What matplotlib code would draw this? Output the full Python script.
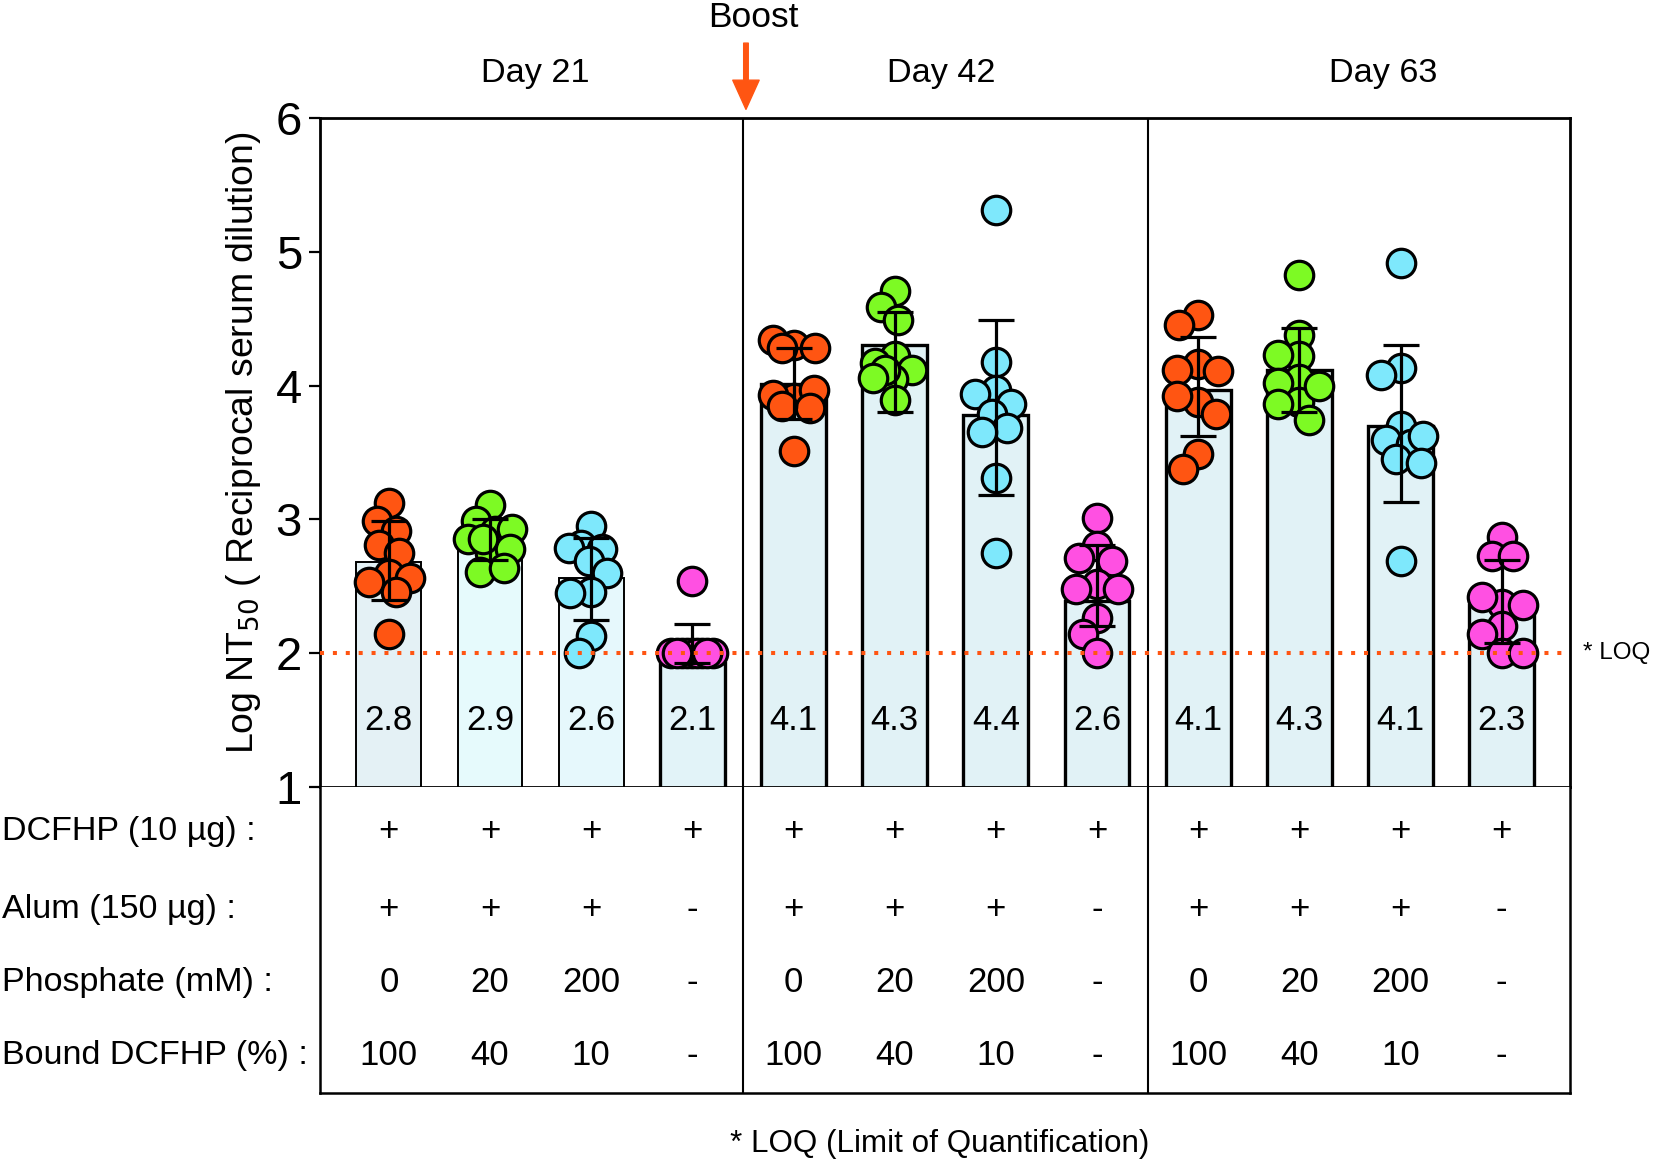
import numpy as np
import matplotlib.pyplot as plt
from matplotlib.transforms import blended_transform_factory

plt.rcParams['font.family'] = ['Liberation Sans', 'DejaVu Sans']

# ---- data ----
days = ['Day 21', 'Day 42', 'Day 63']
day_label_x = [1.45, 5.46, 9.83]
bar_labels = ['2.8', '2.9', '2.6', '2.1', '4.1', '4.3', '4.4', '2.6',
              '4.1', '4.3', '4.1', '2.3']
bar_means = [2.68, 2.80, 2.56, 1.93, 4.01, 4.30, 3.78, 2.39,
             3.97, 4.12, 3.70, 2.36]
err_low = [2.40, 2.70, 2.25, 1.93, 3.75, 3.80, 3.18, 2.20,
           3.62, 3.80, 3.13, 2.08]
err_high = [2.99, 3.00, 2.86, 2.22, 4.28, 4.55, 4.49, 2.81,
            4.36, 4.43, 4.30, 2.70]

d21 = [[3.12, 2.99, 2.91, 2.81, 2.75, 2.59, 2.53, 2.56, 2.46, 2.14],
       [3.11, 2.99, 2.91, 2.85, 2.93, 2.75, 2.78, 2.61, 2.64, 2.85],
       [2.95, 2.81, 2.78, 2.79, 2.69, 2.60, 2.46, 2.45, 2.13, 2.00],
       [2.54, 2.0, 2.0, 2.0, 2.0, 2.0, 2.0, 2.0, 2.0, 2.0]]
d42 = [[4.30, 4.34, 4.28, 4.28, 3.91, 3.93, 3.97, 3.83, 3.85, 3.51],
       [4.71, 4.59, 4.49, 4.22, 4.17, 4.12, 4.05, 4.12, 3.89, 4.06],
       [5.31, 4.18, 3.97, 3.94, 3.86, 3.79, 3.68, 3.65, 3.31, 2.75],
       [3.01, 2.80, 2.71, 2.69, 2.52, 2.48, 2.48, 2.26, 2.14, 2.00]]
d63 = [[4.53, 4.45, 4.16, 4.12, 4.11, 3.88, 3.92, 3.79, 3.49, 3.38],
       [4.83, 4.38, 4.22, 4.23, 4.05, 4.02, 3.88, 3.86, 3.74, 4.00],
       [4.92, 4.13, 4.08, 3.70, 3.59, 3.56, 3.62, 3.45, 3.42, 2.69],
       [2.87, 2.73, 2.73, 2.37, 2.42, 2.36, 2.20, 2.14, 2.00, 2.00]]

row_names = ['DCFHP (10 µg) :', 'Alum (150 µg) :', 'Phosphate (mM) :',
             'Bound DCFHP (%) :']
dcfhp = ['+'] * 12
alum = ['+', '+', '+', '-'] * 3
phosphate = ['0', '20', '200', '-'] * 3
bound = ['100', '40', '10', '-'] * 3

loq = 2.0

# ---- styles ----
dot_colors = ['#FF5512', '#7DFA24', '#7EE8FC', '#FF50E2']
bar_fill = ['#E4F1F5', '#E6FAFC', '#E6F8FC', '#E2F3F8'] + ['#E1F2F6'] * 8
bar_lw = [1.4, 1.4, 1.4, 2.4] + [2.4] * 8
orange = '#FF5512'


def swarm(ax, vals, mind=21.0, maxoff=22):
    """simple dodge so markers don't sit fully on top of each other"""
    ypx = ax.transData.transform(np.column_stack([np.zeros(len(vals)), vals]))[:, 1]
    ppu = ax.transData.transform((1, 0))[0] - ax.transData.transform((0, 0))[0]
    cands = np.arange(-maxoff, maxoff + 1, 1.0)
    cands = cands[np.argsort(np.abs(cands), kind='stable')]
    placed = []
    offs = []
    for yp in ypx:
        if not placed:
            best = 0.0
        else:
            P = np.array(placed)
            d = np.sqrt((cands[:, None] - P[:, 0]) ** 2 + (yp - P[:, 1]) ** 2).min(1)
            ok = np.where(d >= mind)[0]
            best = cands[ok[0]] if len(ok) else cands[np.argmax(d)]
        placed.append((best, yp))
        offs.append(best / ppu)
    return np.array(offs)


fig = plt.figure(figsize=(16.54, 11.63), dpi=100)
ax = fig.add_axes([0.1935, 0.3233, 0.756, 0.5752])
tab = fig.add_axes([0.1935, 0.0602, 0.756, 0.2631])

x = np.arange(12)
ax.set_xlim(-0.68, 11.68)
ax.set_ylim(1, 6)
tab.set_xlim(-0.68, 11.68)
tab.set_ylim(0, 1)

ax.bar(x, bar_means, width=0.64, color=bar_fill, edgecolor='k',
       linewidth=bar_lw, zorder=1)

groups = d21 + d42 + d63
for i, vals in enumerate(groups):
    off = swarm(ax, vals)
    ax.scatter(i + off, vals, s=420, c=dot_colors[i % 4], edgecolors='k',
               linewidths=2.3, zorder=3)

means = np.array(bar_means)
yerr = [means - np.array(err_low), np.array(err_high) - means]
ax.errorbar(x, means, yerr=yerr, fmt='none', ecolor='k', elinewidth=2.3,
            capsize=13, capthick=2.3, zorder=4)

ax.axhline(loq, color=orange, lw=2.9, linestyle=(0, (1.0, 2.2)), zorder=5)
ax.text(1.01, loq, '* LOQ', transform=blended_transform_factory(ax.transAxes, ax.transData),
        fontsize=17.5, va='center', ha='left')

for i, t in enumerate(bar_labels):
    ax.text(i, 1.5, t, ha='center', va='center', fontsize=25, zorder=6)

for xs in (3.5, 7.5):
    ax.axvline(xs, color='k', lw=1.5, zorder=0)
    tab.axvline(xs, color='k', lw=1.5)

for sp in ax.spines.values():
    sp.set_linewidth(2)
ax.set_yticks([1, 2, 3, 4, 5, 6])
ax.tick_params(axis='y', labelsize=34, length=8, width=1.6, pad=5)
ax.set_xticks(x)
ax.set_xticklabels([])
ax.tick_params(axis='x', length=11, width=1.6, direction='out')

tab.spines['top'].set_visible(False)
for sp in ('left', 'right', 'bottom'):
    tab.spines[sp].set_linewidth(1.8)
tab.set_xticks([])
tab.set_yticks([])

bt = blended_transform_factory(ax.transData, ax.transAxes)
for xd, d in zip(day_label_x, days):
    ax.text(xd, 1.067, d, transform=bt, ha='center', va='center', fontsize=24.7)
ax.text(3.6, 1.151, 'Boost', transform=bt, ha='center', va='center', fontsize=25.5)
ax.annotate('', xy=(3.53, 1.013), xytext=(3.53, 1.112), xycoords=bt, textcoords=bt,
            arrowprops=dict(facecolor=orange, edgecolor=orange, width=3.3,
                            headwidth=19, headlength=21), annotation_clip=False)

fig.text(0.147, 0.619, 'Log NT$_{50}$ ( Reciprocal serum dilution)', rotation=90,
         ha='center', va='center', fontsize=26.9)

rows = [dcfhp, alum, phosphate, bound]
row_y = [0.853, 0.601, 0.36, 0.124]
lt = blended_transform_factory(fig.transFigure, tab.transAxes)
for name, vals, yy in zip(row_names, rows, row_y):
    tab.text(0.001, yy, name, transform=lt, ha='left', va='center', fontsize=24.6)
    for i, v in enumerate(vals):
        tab.text(i, yy, v, ha='center', va='center', fontsize=25)

fig.text(0.568, 0.0165, '* LOQ (Limit of Quantification)', ha='center',
         va='center', fontsize=22.6)

fig.savefig('out.png', dpi=100)
